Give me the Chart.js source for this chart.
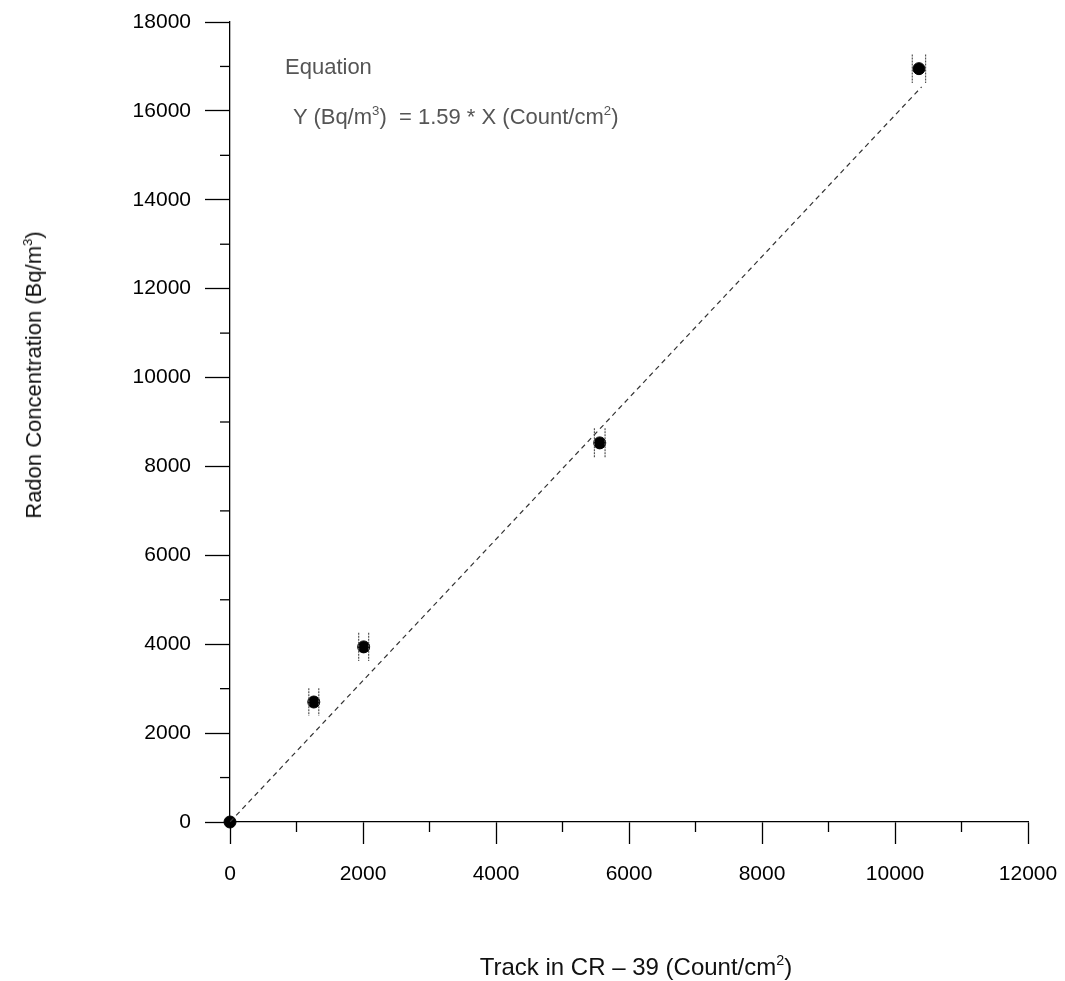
<!DOCTYPE html>
<html>
<head>
<meta charset="utf-8">
<script src="https://cdn.jsdelivr.net/npm/chart.js@4"></script>
<style>
  body { margin: 0; background: #fff; }
  #wrap { position: relative; width: 1065px; height: 981px; font-family: "Liberation Sans", Arial, sans-serif; }
  #wrap canvas { position: absolute; left: 0; top: 0; }
  .txt { position: absolute; white-space: nowrap; line-height: 1; }
  .txt sup { font-size: 60%; vertical-align: 0.7em; line-height: 0; }
  #eqHead { left: 285px; top: 56px; font-size: 22px; color: #555; }
  #eqLine { left: 293px; top: 106px; font-size: 22px; color: #555; }
  #yTitle { left: 34px; top: 375px; font-size: 22px; color: #111; transform: translate(-50%, -50%) rotate(-90deg); }
  #xTitle { left: 636px; top: 967px; font-size: 24px; color: #111; transform: translate(-50%, -50%); }
</style>
</head>
<body>
<div id="wrap">
  <canvas id="chart" width="1065" height="981"></canvas>
  <div class="txt" id="eqHead">Equation</div>
  <div class="txt" id="eqLine">Y (Bq/m<sup>3</sup>)&nbsp; = 1.59 * X (Count/cm<sup>2</sup>)</div>
  <div class="txt" id="yTitle">Radon Concentration (Bq/m<sup>3</sup>)</div>
  <div class="txt" id="xTitle">Track in CR – 39 (Count/cm<sup>2</sup>)</div>
</div>
<script>
// measured points (track density vs radon concentration)
const trackX = [0, 1260, 2010, 5560, 10360];
const radonY = [0, 2700, 3940, 8530, 16950];
const errX = [0, 75, 75, 80, 100];
const errY = [0, 310, 320, 330, 320];

// fitted line Y = 1.59 * X, read at its two ends
const fitX = [0, 10400];
const fitY = [0, 16540];

// axis ticks
const xMajor = [0, 2000, 4000, 6000, 8000, 10000, 12000];
const yMajor = [0, 2000, 4000, 6000, 8000, 10000, 12000, 14000, 16000, 18000];
const xMinor = [1000, 3000, 5000, 7000, 9000, 11000];
const yMinor = [1000, 3000, 5000, 7000, 9000, 11000, 13000, 15000, 17000];

const tickFont = { family: "'Liberation Sans', Arial, sans-serif", size: 21 };

// error bars + minor ticks drawn with the chart's own scales
const extras = {
  id: 'extras',
  afterDatasetsDraw(chart) {
    const ctx = chart.ctx;
    const xs = chart.scales.x, ys = chart.scales.y;
    ctx.save();
    ctx.strokeStyle = '#555';
    ctx.lineWidth = 1.2;
    ctx.setLineDash([2, 1]);
    trackX.forEach((x, i) => {
      if (!errY[i]) return;
      const top = ys.getPixelForValue(radonY[i] + errY[i]);
      const bot = ys.getPixelForValue(radonY[i] - errY[i]);
      [x - errX[i], x + errX[i]].forEach(v => {
        const px = xs.getPixelForValue(v);
        ctx.beginPath();
        ctx.moveTo(px, top);
        ctx.lineTo(px, bot);
        ctx.stroke();
      });
    });
    ctx.setLineDash([]);
    ctx.strokeStyle = '#000';
    ctx.lineWidth = 1.3;
    const axisY = ys.getPixelForValue(0);
    xMinor.forEach(v => {
      const px = xs.getPixelForValue(v);
      ctx.beginPath();
      ctx.moveTo(px, axisY);
      ctx.lineTo(px, axisY + 10);
      ctx.stroke();
    });
    const axisX = xs.getPixelForValue(0);
    yMinor.forEach(v => {
      const py = ys.getPixelForValue(v);
      ctx.beginPath();
      ctx.moveTo(axisX, py);
      ctx.lineTo(axisX - 10, py);
      ctx.stroke();
    });
    ctx.restore();
  }
};

new Chart(document.getElementById('chart'), {
  type: 'scatter',
  data: {
    datasets: [
      {
        type: 'line',
        data: fitX.map((x, i) => ({ x: x, y: fitY[i] })),
        borderColor: '#333',
        borderWidth: 1.2,
        borderDash: [5, 4],
        pointRadius: 0,
        fill: false
      },
      {
        data: trackX.map((x, i) => ({ x: x, y: radonY[i] })),
        backgroundColor: '#000',
        borderColor: '#000',
        pointRadius: 6,
        clip: false
      }
    ]
  },
  options: {
    responsive: false,
    animation: false,
    layout: { padding: { top: 22, right: 37, left: 0, bottom: 0 } },
    plugins: { legend: { display: false }, tooltip: { enabled: false } },
    scales: {
      x: {
        type: 'linear',
        min: 0,
        max: 12000,
        afterBuildTicks: s => { s.ticks = xMajor.map(v => ({ value: v })); },
        afterFit: s => { s.height = 159; s.paddingLeft = 0; s.paddingRight = 0; },
        ticks: { color: '#000', font: tickFont, padding: 18, maxRotation: 0, callback: v => String(v) },
        grid: { drawOnChartArea: false, drawTicks: true, tickLength: 22, tickColor: '#000', tickWidth: 1.3 },
        border: { display: true, color: '#000', width: 1.3 }
      },
      y: {
        type: 'linear',
        min: 0,
        max: 18000,
        afterBuildTicks: s => { s.ticks = yMajor.map(v => ({ value: v })); },
        afterFit: s => { s.width = 230; s.paddingTop = 0; s.paddingBottom = 0; },
        ticks: { color: '#000', font: tickFont, padding: 14, callback: v => String(v) },
        grid: { drawOnChartArea: false, drawTicks: true, tickLength: 25, tickColor: '#000', tickWidth: 1.3 },
        border: { display: true, color: '#000', width: 1.3 }
      }
    }
  },
  plugins: [extras]
});
</script>
</body>
</html>
